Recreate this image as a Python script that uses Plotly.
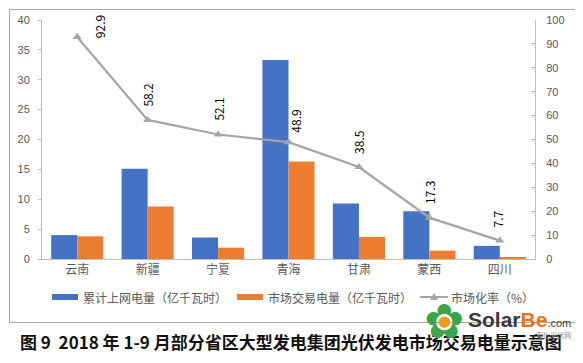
import plotly.graph_objects as go

categories = ["云南", "新疆", "宁夏", "青海", "甘肃", "蒙西", "四川"]
grid_power = [4.0, 15.1, 3.6, 33.3, 9.3, 8.0, 2.2]
market_power = [3.8, 8.8, 1.9, 16.3, 3.7, 1.4, 0.3]
market_rate = [92.9, 58.2, 52.1, 48.9, 38.5, 17.3, 7.7]
left_ticks = [0, 5, 10, 15, 20, 25, 30, 35, 40]
right_ticks = [0, 10, 20, 30, 40, 50, 60, 70, 80, 90, 100]
series_names = ["累计上网电量（亿千瓦时）", "市场交易电量（亿千瓦时）", "市场化率（%）"]
label_shifts = [(23, 10), (0, 25), (0, 25), (7, 21), (0, 25), (0, 25), (-2, 22)]

FONT = "Noto Sans CJK SC"
TXT = "#595959"
BLUE = "#4472C4"
ORANGE = "#ED7D31"
GRAY = "#A5A5A5"

# page body has an 8px margin: figure is sized to fill the remaining window
W, H = 575, 355
L, R, T, B = 34, 48, 12, 104
PW, PH = W - L - R, H - T - B


def px(x):  # screenshot x -> paper
    return (x - 8 - L) / PW


def py(y):  # screenshot y -> paper
    return (H - B - (y - 8)) / PH


fig = go.Figure()
fig.add_trace(go.Bar(x=categories, y=grid_power, name=series_names[0],
                     marker=dict(color=BLUE, line=dict(width=0))))
fig.add_trace(go.Bar(x=categories, y=market_power, name=series_names[1],
                     marker=dict(color=ORANGE, line=dict(width=0))))
fig.add_trace(go.Scatter(x=categories, y=market_rate, name=series_names[2], yaxis="y2",
                         mode="lines+markers",
                         line=dict(color=GRAY, width=2.2),
                         marker=dict(symbol="triangle-up", size=8, color=GRAY)))

for c, v, (dx, dy) in zip(categories, market_rate, label_shifts):
    fig.add_annotation(x=c, y=v, xref="x", yref="y2", text=f"{v:.1f}", textangle=-90,
                       showarrow=False, xshift=dx, yshift=dy,
                       font=dict(family=FONT, size=12, color="#000000"))

fig.update_layout(
    width=W, height=H,
    margin=dict(l=L, r=R, t=T, b=B, autoexpand=False),
    paper_bgcolor="white", plot_bgcolor="white",
    barmode="group", bargap=0.26, bargroupgap=0,
    font=dict(family=FONT, size=11, color=TXT),
    showlegend=False,
    xaxis=dict(showline=True, linecolor="#BFBFBF", linewidth=1, ticks="",
               tickfont=dict(family=FONT, size=12, color=TXT), showgrid=False),
    yaxis=dict(range=[0, 40], tickvals=left_ticks, showgrid=False, zeroline=False,
               showline=True, linecolor="#BFBFBF", linewidth=1,
               ticks="outside", ticklen=3, tickcolor="#BFBFBF",
               ticklabelstandoff=6,
               tickfont=dict(family="Liberation Sans", size=11, color=TXT)),
    yaxis2=dict(range=[0, 100], tickvals=right_ticks, overlaying="y", side="right",
                showgrid=False, zeroline=False, showline=True, linecolor="#BFBFBF",
                linewidth=1, ticks="inside", ticklen=4, tickcolor="#BFBFBF",
                ticklabelstandoff=8,
                tickfont=dict(family="Liberation Sans", size=11, color=TXT)),
)

# custom legend (wide flat swatches like the original)
leg_y = 297
legend_items = [(52, BLUE, "bar"), (237, ORANGE, "bar"), (420, GRAY, "line")]
for (x0, col, kind), name in zip(legend_items, series_names):
    if kind == "bar":
        fig.add_shape(type="rect", xref="paper", yref="paper",
                      x0=px(x0), x1=px(x0 + 26), y0=py(leg_y + 3), y1=py(leg_y - 3),
                      line=dict(width=0), fillcolor=col)
    else:
        fig.add_shape(type="line", xref="paper", yref="paper",
                      x0=px(x0), x1=px(x0 + 28), y0=py(leg_y), y1=py(leg_y),
                      line=dict(color=col, width=2))
        fig.add_shape(type="path", xref="paper", yref="paper",
                      path=f"M {px(x0 + 10)} {py(leg_y + 3)} L {px(x0 + 18)} {py(leg_y + 3)} "
                           f"L {px(x0 + 14)} {py(leg_y - 4)} Z",
                      line=dict(width=0), fillcolor=col)
    fig.add_annotation(xref="paper", yref="paper", x=px(x0 + 29), y=py(leg_y), xanchor="left",
                       yanchor="middle", text=name, showarrow=False,
                       font=dict(family=FONT, size=12, color=TXT))

# chart border: an empty annotation box with a border
bx0, bx1, by0, by1 = 9, 579, 9, 323
fig.add_annotation(xref="paper", yref="paper", x=px((bx0 + bx1) / 2), y=py((by0 + by1) / 2),
                   xanchor="center", yanchor="middle", text=" ", showarrow=False,
                   width=bx1 - bx0 - 2, height=by1 - by0 - 2, borderpad=0,
                   bordercolor="#A6A6A6", borderwidth=1, bgcolor="rgba(0,0,0,0)")

# caption
fig.add_annotation(xref="paper", yref="paper", x=px(291), y=py(341), xanchor="center", yanchor="middle",
                   text="<b>图 9  2018 年 1-9 月部分省区大型发电集团光伏发电市场交易电量示意图</b>",
                   showarrow=False, font=dict(family=FONT, size=17, color="#111111"))

# watermark
fig.add_annotation(xref="paper", yref="paper", x=px(444), y=py(321), xanchor="center", yanchor="middle",
                   text="✿", showarrow=False, font=dict(family="DejaVu Sans", size=48, color="#3DA548"))
fig.add_annotation(xref="paper", yref="paper", x=px(444), y=py(321), xanchor="center", yanchor="middle",
                   text="●", showarrow=False, font=dict(family="DejaVu Sans", size=15, color="#F39A1E"))
fig.add_annotation(xref="paper", yref="paper", x=px(466), y=py(319), xanchor="left", yanchor="middle",
                   text="<b>Solar<span style='color:#E8731E'>Be</span></b><span style='font-size:11px'>.com</span>",
                   showarrow=False, font=dict(family="Liberation Sans", size=21, color="#3A3A3A"))
fig.add_annotation(xref="paper", yref="paper", x=px(573), y=py(335), xanchor="right", yanchor="middle",
                   text="索比光伏网", showarrow=False,
                   font=dict(family=FONT, size=7, color="#8A8A8A"))

fig.write_html("out.html")
